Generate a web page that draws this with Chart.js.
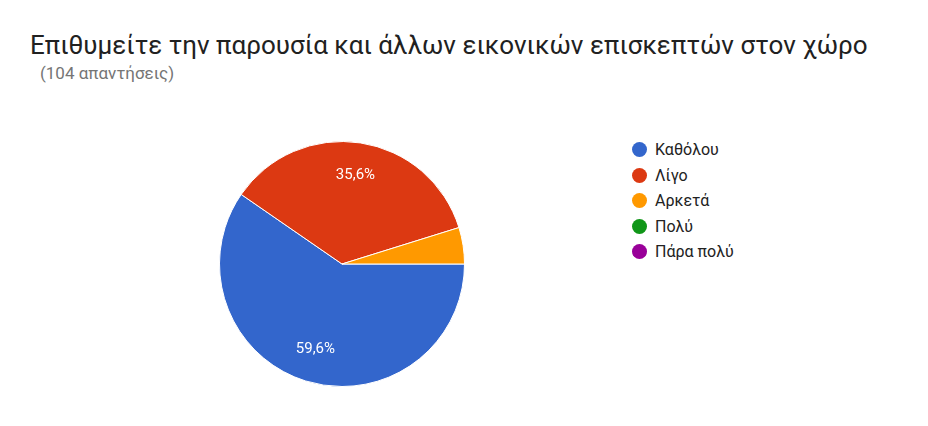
<!DOCTYPE html>
<html lang="el">
<head>
<meta charset="UTF-8" />
<script src="https://cdn.jsdelivr.net/npm/chart.js"></script>
<style>
  body { margin: 0; background: #fff; font-family: Roboto, Arial, sans-serif; }
  #wrap { position: relative; width: 928px; height: 426px; }
  h1 { position: absolute; left: 30px; top: 30px; margin: 0; font-size: 26px; font-weight: normal; color: #212121; white-space: nowrap; }
  #sub { position: absolute; left: 40px; top: 63px; font-size: 17px; color: #757575; }
  #chartBox { position: absolute; left: 216px; top: 138px; width: 252px; height: 252px; }
  #legend { position: absolute; left: 632px; top: 137px; font-size: 16px; color: #222; }
  #legend div { height: 25.5px; display: flex; align-items: center; }
  #legend span { width: 15px; height: 15px; border-radius: 50%; margin-right: 8px; display: inline-block; }
</style>
</head>
<body>
<div id="wrap">
  <h1>Επιθυμείτε την παρουσία και άλλων εικονικών επισκεπτών στον χώρο</h1>
  <div id="sub">(104 απαντήσεις)</div>
  <div id="chartBox"><canvas id="pie"></canvas></div>
  <div id="legend"></div>
</div>
<script>
const labels = ['Καθόλου', 'Λίγο', 'Αρκετά', 'Πολύ', 'Πάρα πολύ'];
const counts = [62, 37, 5, 0, 0];
const colors = ['#3366cc', '#dc3912', '#ff9900', '#109618', '#990099'];

const legend = document.getElementById('legend');
labels.forEach((l, i) => {
  const d = document.createElement('div');
  d.innerHTML = '<span style="background:' + colors[i] + '"></span>' + l;
  legend.appendChild(d);
});

const total = counts.reduce((a, b) => a + b, 0);
// percentage labels placed further out along each slice's middle angle
const sliceLabels = {
  id: 'sliceLabels',
  afterDatasetsDraw(chart) {
    const ctx = chart.ctx;
    chart.getDatasetMeta(0).data.forEach((arc, i) => {
      const pct = counts[i] / total * 100;
      if (pct < 10) return;
      const mid = (arc.startAngle + arc.endAngle) / 2;
      const r = arc.outerRadius * 0.73;
      ctx.save();
      ctx.fillStyle = '#fff';
      ctx.font = '15px Roboto, Arial, sans-serif';
      ctx.textAlign = 'center';
      ctx.textBaseline = 'middle';
      ctx.fillText(pct.toFixed(1).replace('.', ',') + '%', arc.x + Math.cos(mid) * r, arc.y + Math.sin(mid) * r);
      ctx.restore();
    });
  }
};

new Chart(document.getElementById('pie'), {
  type: 'pie',
  data: { labels: labels, datasets: [{ data: counts, backgroundColor: colors, borderColor: '#fff', borderWidth: 1 }] },
  options: {
    responsive: true,
    maintainAspectRatio: false,
    animation: false,
    rotation: 90,
    layout: { padding: 3 },
    plugins: { legend: { display: false }, tooltip: { enabled: false } }
  },
  plugins: [sliceLabels]
});
</script>
</body>
</html>
